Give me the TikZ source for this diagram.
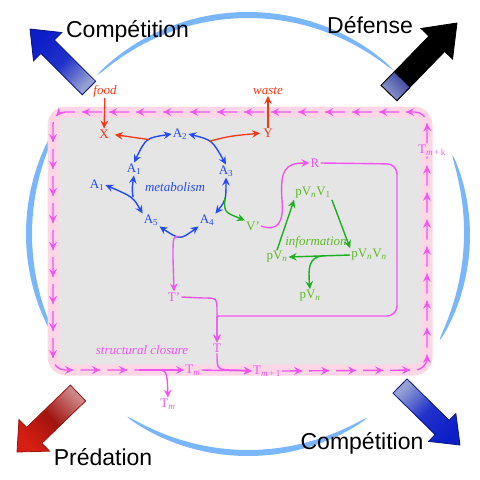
\documentclass[tikz,border=0pt]{standalone}
\usepackage{fontspec}
\setmainfont{Liberation Serif}
\newfontfamily\sansf{Liberation Sans}
\usetikzlibrary{arrows.meta,calc,decorations.markings}
\definecolor{mag}{RGB}{240,85,240}
\definecolor{pinkband}{RGB}{255,214,230}
\definecolor{boxgray}{RGB}{229,229,229}
\definecolor{arcblue}{RGB}{122,182,252}
\definecolor{mblue}{RGB}{35,75,250}
\definecolor{mred}{RGB}{245,55,20}
\definecolor{mgreen}{RGB}{25,175,30}
\definecolor{tgreen}{RGB}{95,185,40}
\definecolor{hblue}{RGB}{12,30,200}
\definecolor{lblue}{RGB}{150,160,210}
\definecolor{nblue}{RGB}{10,20,130}
\definecolor{hred}{RGB}{215,30,18}
\definecolor{dred}{RGB}{160,20,15}
\definecolor{lred}{RGB}{205,135,135}
\newcommand\taperarc[2]{%
 \fill[arcblue] plot[domain=#1:#2,samples=60,smooth] ({248+(219+3*sqrt(abs(sin(180*(\x-#1)/(#2-#1)))))*cos(\x)},{234+(219+3*sqrt(abs(sin(180*(\x-#1)/(#2-#1)))))*sin(\x)}) -- plot[domain=#2:#1,samples=60,smooth] ({248+(219-3*sqrt(abs(sin(180*(\x-#1)/(#2-#1)))))*cos(\x)},{234+(219-3*sqrt(abs(sin(180*(\x-#1)/(#2-#1)))))*sin(\x)}) -- cycle;}
\newcommand\blkarrow[6]{%
 \coordinate (bkH) at ($(#2)!#5!(#1)$);
 \path[#6] ($(#1)!#3!90:(#2)$) -- ($(bkH)!#3!90:(#2)$) -- ($(bkH)!#4!90:(#2)$) -- (#2) -- ($(bkH)!#4!-90:(#2)$) -- ($(bkH)!#3!-90:(#2)$) -- ($(#1)!#3!-90:(#2)$) -- cycle;}
\begin{document}
\begin{tikzpicture}[x=1pt,y=-1pt,
  >={Stealth[length=8pt,width=7.5pt,inset=2.8pt]},
  lab/.style={inner sep=1pt, font=\fontsize{13}{15}\selectfont},
  big/.style={font=\sansf\fontsize{23}{26}\selectfont, anchor=base, inner sep=0pt},
  blarr/.style={mblue, line width=1.4pt},
  redarr/.style={mred, line width=1.3pt},
  grarr/.style={mgreen, line width=1.4pt},
  magline/.style={mag, line width=1.4pt},
  flow/.style={mag, line width=1.4pt, dash pattern=on 20pt off 7pt,
    postaction={decorate},
    decoration={markings, mark=between positions 20pt and -2pt step 27pt with {\arrow{Stealth[length=8pt,width=8pt,inset=3pt]}}}},
  compA/.style={top color=hblue, bottom color=lblue, middle color=hblue!85!lblue, shading angle=45, draw=nblue, line width=0.8pt},
  compB/.style={top color=hblue, bottom color=lblue, middle color=hblue!85!lblue, shading angle=225, draw=nblue, line width=0.8pt},
  predA/.style={top color=hred, bottom color=lred, middle color=dred, shading angle=135, draw=dred, line width=0.8pt},
  defA/.style={fill=black, draw=black, line width=0.8pt}
]
\useasboundingbox (0,0) rectangle (480,480);
% surrounding circle arcs
\taperarc{226.5}{311.5}
\taperarc{339}{389}
\taperarc{57}{123.5}
\taperarc{150}{212}
% box
\coordinate (c1) at (427,112);
\coordinate (c2) at (53,112);
\coordinate (c3) at (53,370);
\coordinate (c4) at (427,370);
\path[fill=boxgray, draw=pinkband, line width=11pt, rounded corners=13pt] (c1) -- (c2) -- (c3) -- (c4) -- cycle;
% block arrows
\coordinate (a1tail) at (89,88); \coordinate (a1tip) at (30,29);
\blkarrow{a1tail}{a1tip}{9.5pt}{20pt}{25pt}{compA}
\coordinate (a2tail) at (389,93); \coordinate (a2tip) at (457,23);
\blkarrow{a2tail}{a2tip}{11pt}{22pt}{29pt}{defA}
\coordinate (dsq) at ($(a2tail)!19pt!(a2tip)$);
\path[top color=nblue!70!lblue, bottom color=lblue, shading angle=-45, draw=black, line width=0.8pt]
  ($(a2tail)!11pt!90:(a2tip)$) -- ($(dsq)!11pt!90:(a2tip)$) -- ($(dsq)!11pt!-90:(a2tip)$) -- ($(a2tail)!11pt!-90:(a2tip)$) -- cycle;
\coordinate (a3tail) at (78,393); \coordinate (a3tip) at (17,452);
\blkarrow{a3tail}{a3tip}{11pt}{22pt}{24pt}{predA}
\coordinate (a4tail) at (400,386); \coordinate (a4tip) at (460,445);
\blkarrow{a4tail}{a4tip}{10pt}{19.5pt}{25pt}{compB}
% big labels
\node[big] (compt) at (127.5,37) {Compétition};
\node[big] (def) at (370,33) {Défense};
\node[big] (pred) at (103,465) {Prédation};
\node[big] (compb) at (362,449) {Compétition};
% inner labels
\node[lab, mred, font=\fontsize{13}{15}\selectfont\itshape] (food) at (105,91) {food};
\node[lab, mred] (X) at (104,134) {X};
\node[lab, mred, font=\fontsize{13}{15}\selectfont\itshape] (waste) at (268,91) {waste};
\node[lab, mred] (Y) at (268,133) {Y};
\node[lab, mblue] (A2) at (180,134) {A\textsubscript{2}};
\node[lab, mblue] (A1u) at (134,169) {A\textsubscript{1}};
\node[lab, mblue] (A1l) at (97,185) {A\textsubscript{1}};
\node[lab, mblue] (A5) at (151,220) {A\textsubscript{5}};
\node[lab, mblue] (A4) at (207,220) {A\textsubscript{4}};
\node[lab, mblue] (A3) at (226,171) {A\textsubscript{3}};
\node[lab, mblue, font=\fontsize{13}{15}\selectfont\itshape] (metab) at (175,187) {metabolism};
\node[lab, tgreen] (Vp) at (253,226) {V’};
\node[lab, mag] (R) at (315,163) {R};
\node[lab, tgreen] (pV1) at (313,193) {pV\textsubscript{\itshape n}V\textsubscript{1}};
\node[lab, tgreen] (pVn2) at (369,255) {pV\textsubscript{\itshape n}V\textsubscript{\itshape n}};
\node[lab, tgreen] (pVa) at (277,257) {pV\textsubscript{\itshape n}};
\node[lab, tgreen] (pVb) at (310,296) {pV\textsubscript{\itshape n}};
\node[lab, tgreen, font=\fontsize{13}{15}\selectfont\itshape] (info) at (316,242) {information};
\node[lab, mag] (Tp) at (174,297) {T’};
\node[lab, mag] (T) at (217,348) {T};
\node[lab, mag, font=\fontsize{13}{15}\selectfont\itshape] (struct) at (142,350) {structural closure};
\node[lab, mag] (tm) at (193,370) {T\textsubscript{\itshape m}};
\node[lab, mag] (tm1) at (267,371) {T\textsubscript{\itshape m\,\upshape+\,1}};
\node[lab, mag] (tmk) at (432,150) {T\textsubscript{\itshape m\,\upshape+\,k}};
\node[lab, mag] (tmb) at (168,404) {T\textsubscript{\itshape m}};
% border flow
\coordinate (b1) at (139,370);
\draw[flow, rounded corners=12pt] (c4 |- tmk.north) -- (c1) -- (c2) -- (c3) -- (b1);
\draw[flow, rounded corners=12pt] (tm1.east) -- (c4) -- (c4 |- tmk.south);
\draw[magline,->] (b1) -- coordinate[pos=0.35] (bb) (tm.west);
\draw[magline,->] (bb) .. controls (167,370) .. (tmb.north);
\draw[magline,->] (tm.east) -- (tm1.west);
\draw[magline,->] (T.south) .. controls (217,370) .. (236,370) -- (tm1.west);
% metabolism
\draw[blarr,<->] (A2.west) .. controls (146,138) .. coordinate[pos=0.45] (r1) (A1u.north);
\draw[blarr,<->] (A2.east) .. controls (212,140) .. coordinate[pos=0.45] (r2) (A3.north);
\draw[blarr,<->] (A3.south) .. controls (226,200) .. coordinate[pos=0.45] (g1) (A4.north east);
\draw[blarr,<->] (A5.south east) .. controls (180,240) .. coordinate[pos=0.5] (m1) (A4.south west);
\coordinate (J) at (133,197);
\draw[blarr,<->] (A1l.east) .. controls (J) .. (A5.north west);
\draw[blarr,->] (J) .. controls (132,188) .. (A1u.south);
% food / waste
\draw[redarr,->] (food) -- (X);
\draw[redarr,->] (Y) -- (waste);
\draw[redarr,->,shorten >=5pt] (r1) -- (X.east);
\draw[redarr,->,shorten >=2pt] (r2) .. controls (230,136) .. (Y.west);
% information
\draw[grarr,->] (g1) .. controls (224,212) .. (Vp.north west);
\draw[grarr,->] (pVa.north) -- (pV1.south west);
\draw[grarr,->] (pV1.south east) -- (pVn2.north west);
\draw[grarr,->] (pVn2.west) -- coordinate[pos=0.45] (g2) (pVa.east);
\draw[grarr,->] (g2) .. controls (309,257) and (308,268) .. (pVb.north);
% structure
\draw[magline,->] (m1) .. controls (173,236) .. (173,258) -- (Tp.north);
\draw[magline,->] (Tp.east) -- (203,298) .. controls (217,298) .. (217,312) -- (T.north);
\draw[magline,->,rounded corners=10pt] (R.east) -- (397,164) -- (397,316) -- (230,316) .. controls (217,316) .. (217,328) -- (T.north);
\draw[magline,->] (Vp.east) .. controls (278,232) and (284,222) .. (282,200) .. controls (280,170) and (285,163) .. (R.west);
\end{tikzpicture}
\end{document}
